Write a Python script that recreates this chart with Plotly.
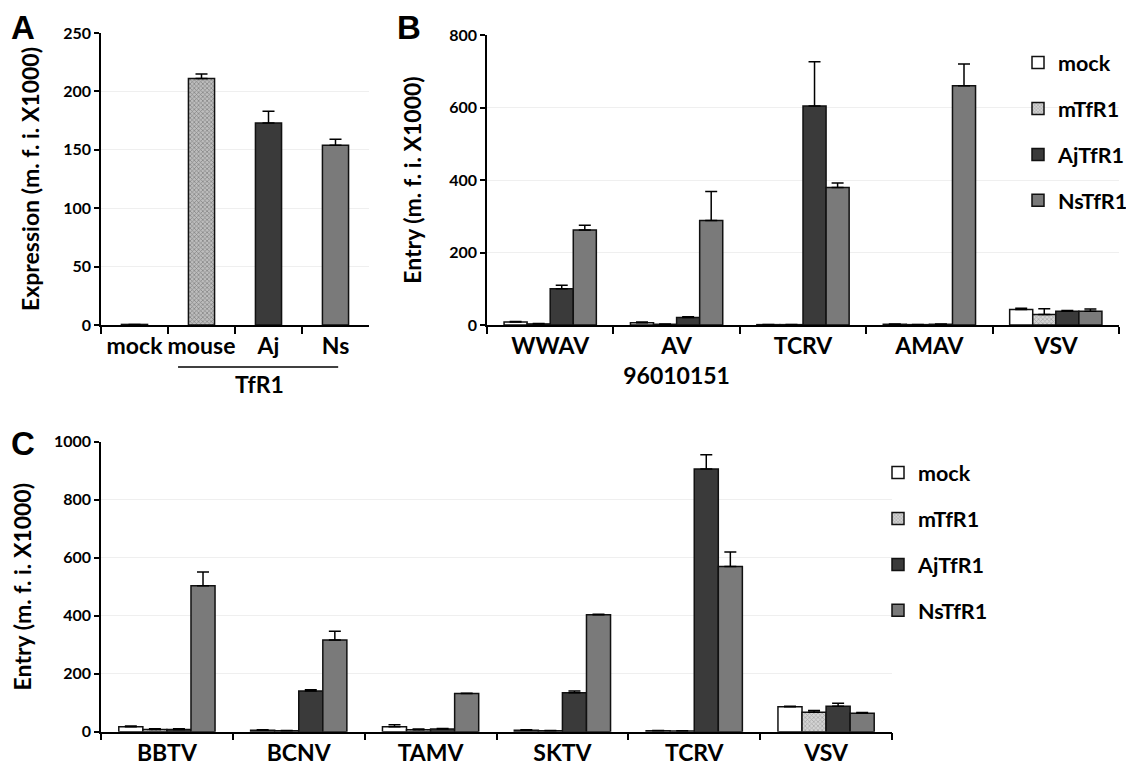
import plotly.graph_objects as go

# ---------------- data ----------------
# Panel A
cats_a = ["mock", "mouse", "Aj", "Ns"]
vals_a = [0.5, 211, 173, 154]
err_a = [0, 4, 10, 5]

series = ["mock", "mTfR1", "AjTfR1", "NsTfR1"]

# Panel B
cats_b = ["WWAV", "AV<br>96010151", "TCRV", "AMAV", "VSV"]
b_mock = [8, 6, 1, 2, 43]
b_mtfr1 = [3, 2, 1, 1, 29]
b_ajtfr1 = [100, 21, 604, 2, 38]
b_nstfr1 = [262, 288, 379, 660, 38]
b_mock_err = [2, 2, 0.5, 0.5, 3]
b_mtfr1_err = [1, 1, 0.5, 0.5, 16]
b_ajtfr1_err = [10, 2, 122, 0.5, 2]
b_nstfr1_err = [13, 80, 13, 60, 6]

# Panel C
cats_c = ["BBTV", "BCNV", "TAMV", "SKTV", "TCRV", "VSV"]
c_mock = [17, 5, 17, 5, 3, 86]
c_mtfr1 = [8, 3, 7, 3, 2, 67]
c_ajtfr1 = [8, 140, 9, 134, 906, 88]
c_nstfr1 = [503, 316, 132, 403, 570, 64]
c_mock_err = [3, 2, 7, 2, 1, 2]
c_mtfr1_err = [2, 1, 2, 1, 1, 6]
c_ajtfr1_err = [2, 5, 2, 6, 49, 10]
c_nstfr1_err = [48, 30, 1, 2, 50, 2]

y_title_a = "Expression (m. f. i. X1000)"
y_title_bc = "Entry (m. f. i. X1000)"
group_label_a = "TfR1"

# ---------------- styles ----------------
FONT = "Lato"
fill = {"mock": "#ffffff", "mTfR1": "#bdbdbd", "AjTfR1": "#3a3a3a", "NsTfR1": "#7a7a7a"}
pat = {"mock": "", "mTfR1": "x", "AjTfR1": "", "NsTfR1": ""}
PAT_FG, PAT_BG = "#777777", "#d4d4d4"
line_c = "#111111"


def err(arr):
    return dict(type="data", array=arr, arrayminus=[0] * len(arr), symmetric=False,
                color="black", thickness=1.5, width=6)


fig = go.Figure()

# Panel A
fig.add_trace(go.Bar(
    x=cats_a, y=vals_a, width=0.39, xaxis="x", yaxis="y", showlegend=False,
    marker=dict(color=[fill["mock"], fill["mTfR1"], fill["AjTfR1"], fill["NsTfR1"]],
                line=dict(color=line_c, width=1.5),
                pattern=dict(shape=["", "x", "", ""], fgcolor=PAT_FG, bgcolor=PAT_BG,
                             size=3, solidity=0.4)),
    error_y=err(err_a),
))

# Panel B
for name, v, e in zip(series, [b_mock, b_mtfr1, b_ajtfr1, b_nstfr1],
                      [b_mock_err, b_mtfr1_err, b_ajtfr1_err, b_nstfr1_err]):
    fig.add_trace(go.Bar(
        x=cats_b, y=v, name=name, xaxis="x2", yaxis="y2", legend="legend",
        legendgroup="b" + name, offsetgroup=name,
        marker=dict(color=fill[name], line=dict(color=line_c, width=1.5),
                    pattern=dict(shape=pat[name], fgcolor=PAT_FG, bgcolor=PAT_BG,
                                 size=3, solidity=0.4)),
        error_y=err(e),
    ))

# Panel C
for name, v, e in zip(series, [c_mock, c_mtfr1, c_ajtfr1, c_nstfr1],
                      [c_mock_err, c_mtfr1_err, c_ajtfr1_err, c_nstfr1_err]):
    fig.add_trace(go.Bar(
        x=cats_c, y=v, name=name, xaxis="x3", yaxis="y3", legend="legend2",
        legendgroup="c" + name, offsetgroup=name,
        marker=dict(color=fill[name], line=dict(color=line_c, width=1.5),
                    pattern=dict(shape=pat[name], fgcolor=PAT_FG, bgcolor=PAT_BG,
                                 size=3, solidity=0.4)),
        error_y=err(e),
    ))

tickf = dict(family=FONT, size=16, color="black", weight="bold")
catf = dict(family=FONT, size=23, color="black", weight="bold")
titf = dict(family=FONT, size=23, color="black", weight="bold")
legf = dict(family=FONT, size=21.5, color="black", weight="bold")


def xax(domain, anchor):
    return dict(domain=domain, anchor=anchor, type="category", showline=True, linecolor="black",
                linewidth=1.5, ticks="outside", tickson="boundaries", ticklen=7, tickwidth=1.5,
                tickcolor="black", tickfont=catf, tickangle=0, showgrid=False, zeroline=False,
                automargin=False, fixedrange=True)


def yax(domain, anchor, rng, dtick, title, standoff):
    return dict(domain=domain, anchor=anchor, range=rng, dtick=dtick, showline=True,
                linecolor="black", linewidth=1.5, ticks="outside", ticklen=5, tickwidth=1.5,
                tickcolor="black", tickfont=tickf, showgrid=True, gridcolor="#efefef",
                gridwidth=1, zeroline=False, automargin=False,
                title=dict(text=title, font=titf, standoff=standoff))


# the page body adds an 8px offset; positions below are screen pixels
OFF = 8
W, H = 1134 - OFF, 769 - OFF


def px(x):
    return (x - OFF) / W


def py(y):
    return 1 - (y - OFF) / H


fig.update_layout(
    width=W, height=H, margin=dict(l=0, r=0, t=0, b=0, autoexpand=False),
    paper_bgcolor="white", plot_bgcolor="white",
    barmode="group", bargap=0.27, bargroupgap=0,
    font=dict(family=FONT, color="black"),
    xaxis=xax([px(101), px(369)], "y"),
    yaxis=yax([py(325), py(33)], "x", [0, 250], 50, y_title_a, 17),
    xaxis2=xax([px(487), px(1119)], "y2"),
    yaxis2=yax([py(325), py(35)], "x2", [0, 800], 200, y_title_bc, 21),
    xaxis3=xax([px(101), px(892)], "y3"),
    yaxis3=yax([py(731.7), py(441.7)], "x3", [0, 1000], 200, y_title_bc, 17),
    legend=dict(x=px(1018), y=py(42), xanchor="left", yanchor="top", font=legf,
                tracegroupgap=15, bgcolor="rgba(0,0,0,0)", itemwidth=30, traceorder="grouped"),
    legend2=dict(x=px(878), y=py(452), xanchor="left", yanchor="top", font=legf,
                 tracegroupgap=15, bgcolor="rgba(0,0,0,0)", itemwidth=30, traceorder="grouped"),
)

# TfR1 underline and label for panel A
fig.add_shape(type="line", xref="x", yref="paper", x0=0.65, x1=3.04, y0=py(367), y1=py(367),
              line=dict(color="black", width=1.5))
fig.add_annotation(text=group_label_a, xref="x", yref="paper", x=1.87, y=py(384), showarrow=False,
                   font=catf, xanchor="center", yanchor="middle")

# Panel letters
for letter, x, y, anchor in [("A", 23, 8, "top"), ("B", 409, 8, "top"), ("C", 23, 443, "middle")]:
    fig.add_annotation(text="<b>" + letter + "</b>", xref="paper", yref="paper", x=px(x), y=py(y),
                       showarrow=False, xanchor="center", yanchor=anchor, borderpad=0,
                       font=dict(family="Liberation Sans", size=33, color="black"))

fig.write_html("out.html")
